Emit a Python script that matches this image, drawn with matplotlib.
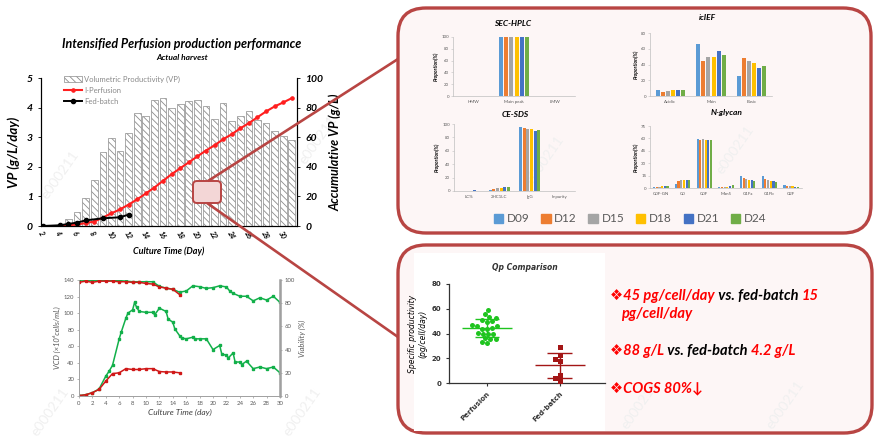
import numpy as np
import matplotlib.pyplot as plt
import seaborn as sns
from matplotlib.patches import FancyBboxPatch, Rectangle, Patch
from matplotlib.lines import Line2D

plt.rcParams['font.family'] = ['Lato', 'DejaVu Sans']
plt.rcParams['hatch.color'] = '#8c8c8c'
plt.rcParams['hatch.linewidth'] = 0.6

W, H = 880, 441

# ---- top-left: volumetric productivity ----
vp_days = list(range(4, 32))
vp = [0.05, 0.25, 0.47, 0.93, 1.55, 2.49, 2.96, 2.53, 3.13, 3.81, 3.73, 4.26, 4.32, 4.0,
      4.13, 4.21, 4.25, 4.07, 3.61, 4.16, 3.56, 3.7, 3.88, 3.59, 3.47, 3.22, 3.04, 2.91]
perf_days = list(range(4, 32))
perf_acc = [0.1, 0.5, 1.0, 2.0, 3.0, 5.7, 8.6, 11.2, 14.5, 18, 22, 26, 30.5, 35, 39, 43, 47,
            51, 54.5, 58.6, 62, 66, 69.5, 73.5, 77.4, 80.8, 83.5, 86.4]
fb_days = [2, 4, 5, 6, 7, 9, 11, 12]
fb_acc = [0, 0.5, 1.4, 2.3, 3.8, 5.2, 5.9, 7.7]

# ---- bottom-left: VCD / viability ----
perf_vcd_day = [0, 1, 2, 3, 4, 4.5, 5, 6, 6.3, 7, 7.3, 8, 8.3, 8.6, 9, 10, 11, 11.3, 12, 13,
                13.3, 14, 14.3, 15, 15.3, 16, 17, 17.3, 18, 19, 20, 21, 21.3, 22, 22.3, 23,
                23.3, 24, 24.3, 25, 26, 27, 28, 29, 30]
perf_vcd = [0.5, 1.5, 4, 8.5, 24, 30, 37, 69, 77, 94, 100, 104, 113, 107, 102, 101, 101, 98,
            106, 102, 93, 89, 81, 73, 70, 69, 71, 69, 69, 69, 56, 61, 51, 49, 46, 52, 41, 41,
            38, 42, 33, 35, 33, 35, 28]
fb_vcd_day = list(range(0, 16))
fb_vcd = [0.5, 1.5, 4, 8, 18, 27, 28, 33, 32, 32, 33, 33, 29.5, 29, 29, 28]
perf_via_day = [0, 1, 2, 3, 4, 5, 6, 7, 8, 9, 10, 11, 12, 13, 14, 15, 16, 17, 18, 19, 20, 21,
                22, 22.5, 23, 24, 25, 26, 27, 28, 29, 30]
perf_via = [100, 99.8, 99.5, 99.8, 99.8, 99.8, 99.5, 99, 98.5, 98.5, 98.5, 98.5, 94.5, 93, 92,
            89.5, 90.5, 95, 94.2, 92.8, 93.4, 95, 94, 90.5, 88.5, 86, 86, 82, 84.7, 82.7, 86, 80.7]
fb_via_day = list(range(0, 16))
fb_via = [98, 99, 98, 99, 99, 99, 98.5, 98.5, 98, 98, 97, 96.5, 94, 93, 92, 87.5]

# ---- top-right: quality attributes (rows = categories, cols = D09..D24) ----
days_lbl = ['D09', 'D12', 'D15', 'D18', 'D21', 'D24']
day_colors = ['#5b9bd5', '#ed7d31', '#a5a5a5', '#ffc000', '#4472c4', '#70ad47']
sec_cats = ['HMW', 'Main peak', 'LMW']
sec_vals = [[0.3] * 6, [99.4, 99.5, 99.5, 99.5, 99.4, 99.4], [0.3] * 6]
ief_cats = ['Acidic', 'Main', 'Basic']
ief_vals = [[8, 5.5, 6.5, 7, 7, 8],
            [66.5, 45, 49.5, 50, 57.5, 52.5],
            [25, 48.5, 44.5, 42.5, 35, 38.5]]
ce_cats = ['LC%', '2HC1LC', 'IgG', 'Impurity']
ce_vals = [[0.6, 0.6, 0.6, 0.6, 1.0, 0.6],
           [2, 3.5, 4.5, 4, 6.5, 6],
           [95, 93.5, 92.5, 92, 90, 91],
           [0.5, 0.5, 0.5, 0.5, 0.5, 0.5]]
gly_cats = ['G0F-GN', 'G0', 'G0F', 'Man5', 'G1Fa', 'G1Fb', 'G2F']
gly_vals = [[1, 1.2, 1.5, 2, 2.5, 3],
            [4.5, 9, 9.5, 9.5, 9.5, 9.5],
            [59, 58, 59.5, 58.5, 58, 58],
            [0.8, 0.8, 1, 1.5, 2.5, 4],
            [14.5, 11.5, 10.5, 10, 10, 8.5],
            [14, 10.5, 9.5, 9, 8.5, 7.5],
            [3.5, 2.5, 2, 2, 1.5, 1.5]]

# ---- bottom-right: Qp ----
qp_perf = [59.3, 55.8, 53.3, 52.5, 49.6, 49.8, 50.6, 46.3, 46.3, 46.6, 43.9, 44.4, 43.9,
           39.9, 40.1, 39.9, 39.9, 35.3, 36.4, 35.6, 32.3, 32.9]
qp_fb = [28.8, 22.5, 19, 17.5, 6.2, 4, 1.9]


def px(l, t, r, b):
    return [l / W, 1 - b / H, (r - l) / W, (b - t) / H]


fig = plt.figure(figsize=(8.8, 4.41), dpi=100)
bg = fig.add_axes([0, 0, 1, 1], zorder=-5)
bg.set_xlim(0, W)
bg.set_ylim(H, 0)
bg.axis('off')
edge = '#b84543'
for l, t, r, b in [(398, 8, 871, 233), (398, 245, 872, 433)]:
    bg.add_patch(FancyBboxPatch((l, t), r - l, b - t, boxstyle='round,pad=0,rounding_size=28',
                                fc='#fdf6f6', ec=edge, lw=2.4))
bg.add_patch(Rectangle((414, 253), 191, 178, fc='white', ec='none'))
for wx, wy in [(60, 175), (318, 140), (50, 412), (302, 412), (545, 160), (735, 150),
               (640, 405), (785, 405)]:
    bg.text(wx, wy, 'e000211', color='#f0f0f0', fontsize=10, rotation=55, ha='center',
            va='center')

bi = dict(fontweight='bold', fontstyle='italic')

# ---------------- top-left chart ----------------
ax1 = fig.add_axes(px(41, 78, 297, 226))
ax1.patch.set_alpha(0)
ax1.bar(vp_days, vp, width=0.78, color='white', edgecolor='#8c8c8c', hatch='\\' * 5, lw=0.5)
ax1.set_xlim(1.8, 31.6)
ax1.set_ylim(0, 5)
ax1.set_yticks(range(0, 6))
ax1.set_yticklabels([str(v) for v in range(0, 6)], fontsize=7.5, **bi)
ax1.set_xticks(range(2, 31, 2))
ax1.set_xticklabels([str(d) for d in range(2, 31, 2)], fontsize=5, rotation=-60, ha='left',
                    rotation_mode='anchor', **bi)
ax1.tick_params(axis='x', length=0, pad=3)
ax1.tick_params(axis='y', length=2.5, width=0.6)
ax1.set_ylabel('VP (g/L/day)', fontsize=9.5, labelpad=5, **bi)
ax1.set_xlabel('Culture Time (Day)', fontsize=6.5, labelpad=4, **bi)
ax1.spines['top'].set_visible(False)
ax1b = ax1.twinx()
ax1b.plot(perf_days, perf_acc, color='#ff1f1f', marker='o', ms=2.3, lw=1.5)
ax1b.plot(fb_days, fb_acc, color='black', marker='o', ms=3, lw=1.4)
ax1b.set_ylim(0, 100)
ax1b.set_yticks(range(0, 101, 20))
ax1b.set_yticklabels([str(v) for v in range(0, 101, 20)], fontsize=7.5, **bi)
ax1b.tick_params(axis='y', length=2.5, width=0.6)
ax1b.set_ylabel('Accumulative VP (g/L)', fontsize=9, labelpad=4, **bi)
ax1b.spines['top'].set_visible(False)
for s in ['left', 'right', 'bottom']:
    ax1b.spines[s].set_linewidth(0.8)
handles = [Patch(facecolor='white', edgecolor='#8c8c8c', hatch='\\' * 5, lw=0.5),
           Line2D([], [], color='#ff1f1f', marker='o', ms=2.3, lw=1.5),
           Line2D([], [], color='black', marker='o', ms=3, lw=1.4)]
ax1b.legend(handles, ['Volumetric Productivity (VP)', 'I-Perfusion', 'Fed-batch'],
            loc='upper left', bbox_to_anchor=(0.075, 1.04), frameon=False, fontsize=5.5,
            labelcolor='#8a8a8a', handlelength=2.4, handleheight=0.9, labelspacing=0.5,
            borderpad=0, handletextpad=0.2)
fig.text(182 / W, 1 - 44 / H, 'Intensified Perfusion production performance', ha='center',
         va='center', fontsize=9, **bi)
fig.text(182 / W, 1 - 58 / H, 'Actual harvest', ha='center', va='center', fontsize=6, **bi)

# ---------------- bottom-left chart ----------------
g_col, r_col, grey = '#12b04a', '#d01818', '#595959'
ax2 = fig.add_axes(px(79, 280, 280, 396))
ax2.patch.set_alpha(0)
ax2.plot(perf_vcd_day, perf_vcd, color=g_col, marker='s', ms=1.6, lw=1.1)
ax2.plot(fb_vcd_day, fb_vcd, color=r_col, marker='s', ms=1.6, lw=1.1)
ax2.set_xlim(0, 30)
ax2.set_ylim(0, 140)
ax2.set_xticks(range(0, 31, 2))
ax2.set_yticks(range(0, 141, 20))
ax2.tick_params(labelsize=4.3, labelcolor=grey, length=1.5, width=0.5, color='#999999', pad=2)
ax2.set_xlabel('Culture Time (day)', fontsize=6, fontstyle='italic', color='#404040', labelpad=2)
ax2.set_ylabel('VCD (×10⁶cells/mL)', fontsize=5.5, fontstyle='italic', color=grey, labelpad=2)
ax2b = ax2.twinx()
ax2b.plot(perf_via_day, perf_via, color=g_col, marker='s', ms=1.6, lw=1.1)
ax2b.plot(fb_via_day, fb_via, color=r_col, marker='s', ms=1.6, lw=1.1)
ax2b.set_ylim(0, 100)
ax2b.set_yticks(range(0, 101, 20))
ax2b.tick_params(labelsize=4.3, labelcolor=grey, length=1.5, width=0.5, color='#999999', pad=2)
ax2b.set_ylabel('Viability (%)', fontsize=5.5, fontstyle='italic', color=grey, labelpad=3)
for a in (ax2, ax2b):
    a.spines['top'].set_visible(False)
    for s in ['left', 'bottom']:
        a.spines[s].set_color('#a0a0a0')
        a.spines[s].set_linewidth(0.6)
ax2b.spines['right'].set_color('#a0a0a0')
ax2b.spines['right'].set_linewidth(1.8)


# ---------------- top-right small bar charts ----------------
def small_bars(rect, title, title_xy, cats, vals, ymax, ystep):
    ax = fig.add_axes(px(*rect))
    ax.patch.set_alpha(0)
    x = np.arange(len(cats))
    n = len(days_lbl)
    pitch = 0.74 / n
    for i in range(n):
        ax.bar(x - 0.37 + pitch * (i + 0.5), [row[i] for row in vals], width=pitch * 0.8,
               color=day_colors[i], lw=0)
    ax.set_xlim(-0.5, len(cats) - 0.5)
    ax.set_ylim(0, ymax)
    ax.set_yticks(np.arange(0, ymax + 0.1, ystep))
    ax.set_xticks(x)
    ax.set_xticklabels(cats)
    ax.tick_params(labelsize=3.2, labelcolor='#595959', length=1.2, width=0.4,
                   color='#bfbfbf', pad=1.5)
    ax.tick_params(axis='x', length=0, pad=3)
    ax.set_ylabel('Proportion(%)', fontsize=3.6, labelpad=2, **bi)
    for s in ['top', 'right']:
        ax.spines[s].set_visible(False)
    for s in ['left', 'bottom']:
        ax.spines[s].set_color('#bfbfbf')
        ax.spines[s].set_linewidth(0.5)
    fig.text(title_xy[0] / W, 1 - title_xy[1] / H, title, ha='center', va='center',
             fontsize=6, **bi)


small_bars((453, 37, 575, 96), 'SEC-HPLC', (513, 23), sec_cats, sec_vals, 100, 20)
small_bars((650, 33, 772, 96), 'icIEF', (707, 18), ief_cats, ief_vals, 80, 20)
small_bars((454, 124, 575, 191), 'CE-SDS', (515, 114), ce_cats, ce_vals, 100, 20)
small_bars((650, 126, 802, 188), 'N-glycan', (727, 113), gly_cats, gly_vals, 75, 15)
fig.legend([Patch(color=c) for c in day_colors], days_lbl, loc='center',
           bbox_to_anchor=(630 / W, 1 - 219 / H), ncol=6, frameon=False, fontsize=8.5,
           labelcolor='#595959', handlelength=0.8, handleheight=0.8, columnspacing=1.0,
           handletextpad=0.3)

# ---------------- Qp comparison ----------------
p_col, f_col = '#1fc41f', '#a31515'
ax3 = fig.add_axes(px(449, 284, 605, 383))
ax3.patch.set_alpha(0)
order = ['Perfusion', 'Fed-batch']
sns.swarmplot(x=['Perfusion'] * len(qp_perf), y=qp_perf, order=order, color=p_col, size=3.6,
              marker='o', ax=ax3)
sns.swarmplot(x=['Fed-batch'] * len(qp_fb), y=qp_fb, order=order, color=f_col, size=3.6,
              marker='s', ax=ax3)
for i, (vals, c) in enumerate([(qp_perf, p_col), (qp_fb, f_col)]):
    m, sd = np.mean(vals), np.std(vals, ddof=1)
    ax3.hlines(m, i - 0.34, i + 0.34, color=c, lw=1.0)
    ax3.hlines([m - sd, m + sd], i - 0.17, i + 0.17, color=c, lw=1.0)
    ax3.vlines(i, m - sd, m + sd, color=c, lw=1.0)
ax3.set_xlim(-0.52, 1.62)
ax3.set_ylim(0, 80)
ax3.set_yticks(range(0, 81, 20))
ax3.set_yticklabels([str(v) for v in range(0, 81, 20)], fontsize=5, fontweight='bold',
                    color='#333333', family='DejaVu Sans')
ax3.set_xticks([0, 1])
ax3.set_xticklabels(order, rotation=45, ha='right', rotation_mode='anchor', fontsize=5,
                    fontweight='bold', color='#333333', family='DejaVu Sans')
ax3.tick_params(length=2, width=0.8, color='#333333')
ax3.set_ylabel('Specific productivity\n(pg/cell/day)', fontsize=5.5, fontstyle='italic',
               family='DejaVu Sans', labelpad=3)
for s in ['top', 'right']:
    ax3.spines[s].set_visible(False)
for s in ['left', 'bottom']:
    ax3.spines[s].set_linewidth(0.9)
    ax3.spines[s].set_color('#333333')
fig.text(525 / W, 1 - 268 / H, 'Qp Comparison', ha='center', va='center', fontsize=5.5,
         fontweight='bold', fontstyle='italic', family='DejaVu Sans', color='#333333')

# ---------------- overlay: connectors and callout text ----------------
top = fig.add_axes([0, 0, 1, 1], zorder=20)
top.set_xlim(0, W)
top.set_ylim(H, 0)
top.axis('off')
top.plot([208, 398], [181, 59], color=edge, lw=1.9, solid_capstyle='butt')
top.plot([207, 398], [203, 337], color=edge, lw=1.9, solid_capstyle='butt')
top.add_patch(FancyBboxPatch((193, 181), 28, 22, boxstyle='round,pad=0,rounding_size=4',
                             fc='#f3d6d6', ec=edge, lw=1.4))

red = '#ff0000'


def rich(x, y, parts, size=10.5):
    t = top.text(x, y, parts[0][0], color=parts[0][1], fontsize=size, va='baseline', **bi)
    for s, c in parts[1:]:
        t = top.annotate(s, xy=(1, 0), xycoords=t, va='bottom', ha='left', color=c,
                         fontsize=size, **bi)


rich(610, 300, [('❖45 pg/cell/day', red), (' vs. fed-batch ', 'black'), ('15', red)])
rich(621, 318, [('pg/cell/day', red)])
rich(610, 355, [('❖88 g/L', red), (' vs. fed-batch ', 'black'), ('4.2 g/L', red)])
rich(610, 392, [('❖COGS 80%↓', red)])

fig.savefig('out.png', dpi=100)
